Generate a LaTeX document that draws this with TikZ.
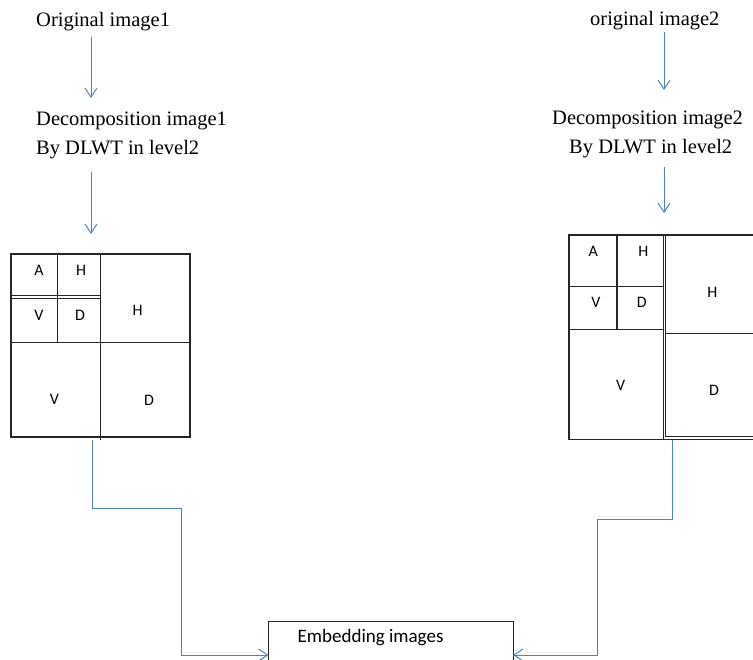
\documentclass[tikz,border=0pt]{standalone}
\usepackage{fontspec}
\setmainfont{Liberation Serif}
\setsansfont{Carlito}
\usetikzlibrary{arrows.meta}
\definecolor{linkblue}{HTML}{4F81BD}
\definecolor{gridline}{HTML}{262626}

\begin{document}
\begin{tikzpicture}[x=1pt,y=-1pt,
  caption/.style={font=\rmfamily\fontsize{20.5}{24}\selectfont, inner sep=0pt, anchor=base west},
  conn/.style={draw=linkblue, line width=1pt, -{Straight Barb[length=9pt,width=12pt]}},
  gline/.style={draw=gridline, line width=1.3pt},
  cell/.style={font=\sffamily\fontsize{16}{18}\selectfont, inner sep=0pt},
  area/.style={inner sep=0pt, outer sep=0pt}]

\useasboundingbox (0,0) rectangle (753,660);

% ---- captions ----
\node[caption] (orig1) at (36,26.5) {Original image1};
\node[caption] (dec1a) at (36,126) {Decomposition image1};
\node[caption] (dec1b) at (36,154.5) {By DLWT in level2};
\node[caption] (orig2) at (590,25.5) {original image2};
\node[caption] (dec2a) at (552,125) {Decomposition image2};
\node[caption] (dec2b) at (569,153.5) {By DLWT in level2};

% ---- left two-level decomposition grid ----
\node[area, draw=gridline, line width=1.3pt, minimum width=179pt, minimum height=183pt] (g1) at (100.5,345.5) {};
\draw[gline] (100.7,254) -- (100.7,440);
\draw[gline] (11,342.3) -- (190,342.3);
\draw[gline] (57.7,254) -- (57.7,342.3);
\draw[gline] (11,295.7) -- (100.7,295.7);
\draw[gline] (11,298.5) -- (100.7,298.5);
\node[cell] (la)  at (39,270.5)  {A};
\node[cell] (lh)  at (81,270.5)  {H};
\node[cell] (lv)  at (39,315)    {V};
\node[cell] (ld)  at (80,315)    {D};
\node[cell] (lH)  at (137.7,310.7) {H};
\node[cell] (lV)  at (54.3,399.3) {V};
\node[cell] (lD)  at (149,400)   {D};

% ---- right two-level decomposition grid (runs off the right edge) ----
\node[area, minimum width=184pt, minimum height=204pt] (g2) at (661,337) {};
\draw[gline] (753,235) -- (569,235) -- (569,439.3) -- (753,439.3);
\draw[gline] (663.4,235) -- (663.4,439.3);
\draw[gline] (665.2,235) -- (665.2,436.7);
\draw[gline, line width=2pt] (617,235) -- (617,329.3);
\draw[gline] (569,286.7) -- (663.4,286.7);
\draw[gline] (569,329.3) -- (663.4,329.3);
\draw[gline] (665.2,333.3) -- (753,333.3);
\draw[gline] (665.2,436.7) -- (753,436.7);
\node[cell] (ra)  at (593.3,251)   {A};
\node[cell] (rh)  at (643.3,251)   {H};
\node[cell] (rv)  at (596,302.7)   {V};
\node[cell] (rd)  at (641.7,302.7) {D};
\node[cell] (rH)  at (712.3,292.3) {H};
\node[cell] (rV)  at (620.7,385.7) {V};
\node[cell] (rD)  at (714,390.7)   {D};

% ---- embedding box (cut by the bottom edge) ----
\node[area, minimum width=244.5pt, minimum height=39pt] (emb) at (390.75,640.5) {};
\draw[draw=gridline, line width=1pt] (emb.south west) -- (emb.north west) -- (emb.north east) -- (emb.south east);
\node[font=\sffamily\fontsize{19}{22}\selectfont, inner sep=0pt, anchor=base west] (embtxt) at (297.5,642.3) {Embedding images};

% ---- arrows ----
\draw[conn] ([xshift=55pt,yshift=-10.5pt]orig1.base west) -- ([xshift=55pt,yshift=28pt]dec1a.base west);
\draw[conn] ([xshift=55pt,yshift=-17.5pt]dec1b.base west) -- ([xshift=-9.5pt,yshift=20pt]g1.north);
\draw[conn] ([xshift=74pt,yshift=-6.5pt]orig2.base west) -- ([xshift=112pt,yshift=35pt]dec2a.base west);
\draw[conn] ([xshift=95pt,yshift=-13.5pt]dec2b.base west) -- ([xshift=3pt,yshift=22pt]g2.north);

\draw[conn] ([xshift=-8.5pt,yshift=-3pt]g1.south) |- (181,508) |- ([yshift=5pt]emb.south west);
\draw[conn] ([xshift=11pt,yshift=-1pt]g2.south) |- (597,519) |- ([yshift=5pt]emb.south east);
\end{tikzpicture}
\end{document}
